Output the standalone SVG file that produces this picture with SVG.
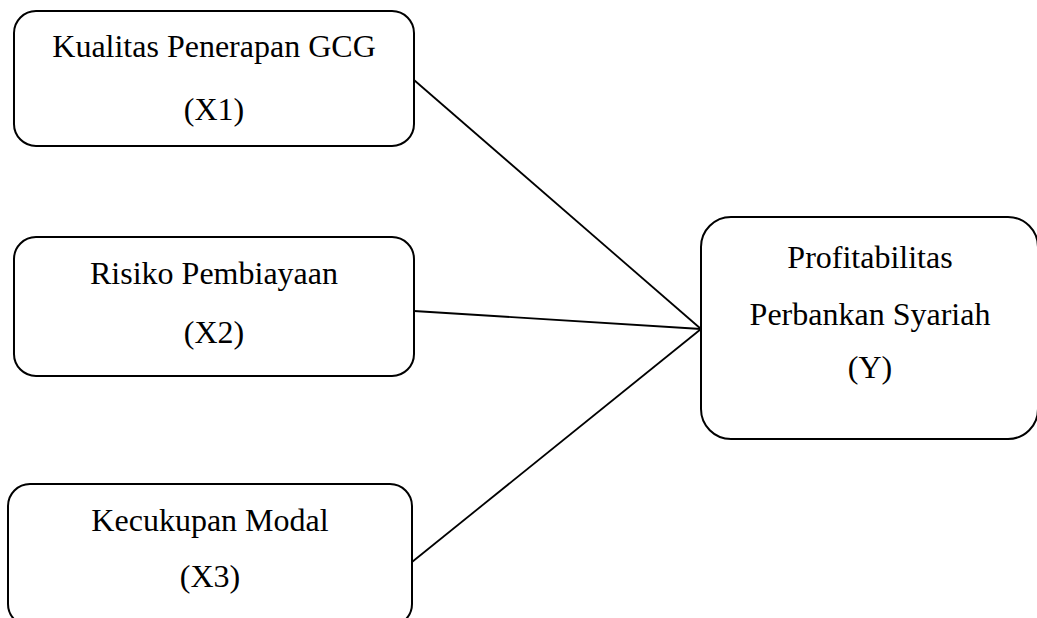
<svg xmlns="http://www.w3.org/2000/svg" width="1037" height="618" viewBox="0 0 1037 618">
<style>
.box{fill:#fff;stroke:#000;stroke-width:2}
.t{font-family:"Liberation Serif","Times New Roman",serif;font-size:32px;fill:#000;text-anchor:middle}
.c{stroke:#000;stroke-width:1.8;fill:none}
</style>
<rect width="1037" height="618" fill="#fff"/>
<g id="connectors">
<line class="c" x1="414" y1="80" x2="701" y2="329"/>
<line class="c" x1="414" y1="311" x2="701" y2="329"/>
<line class="c" x1="412" y1="562" x2="701" y2="329"/>
</g>
<g id="x1">
<rect class="box" x="14" y="11" width="400" height="135" rx="22" ry="22"/>
<text class="t" x="214" y="57">Kualitas Penerapan GCG</text>
<text class="t" x="214" y="120">(X1)</text>
</g>
<g id="x2">
<rect class="box" x="14" y="237" width="400" height="139" rx="22" ry="22"/>
<text class="t" x="214" y="284">Risiko Pembiayaan</text>
<text class="t" x="214" y="343">(X2)</text>
</g>
<g id="x3">
<rect class="box" x="8" y="484" width="404" height="142" rx="22" ry="22"/>
<text class="t" x="210" y="531">Kecukupan Modal</text>
<text class="t" x="210" y="587">(X3)</text>
</g>
<g id="y">
<rect class="box" x="701" y="217" width="337" height="222" rx="30" ry="30"/>
<text class="t" x="870" y="268">Profitabilitas</text>
<text class="t" x="870" y="325">Perbankan Syariah</text>
<text class="t" x="870" y="378">(Y)</text>
</g>
</svg>
